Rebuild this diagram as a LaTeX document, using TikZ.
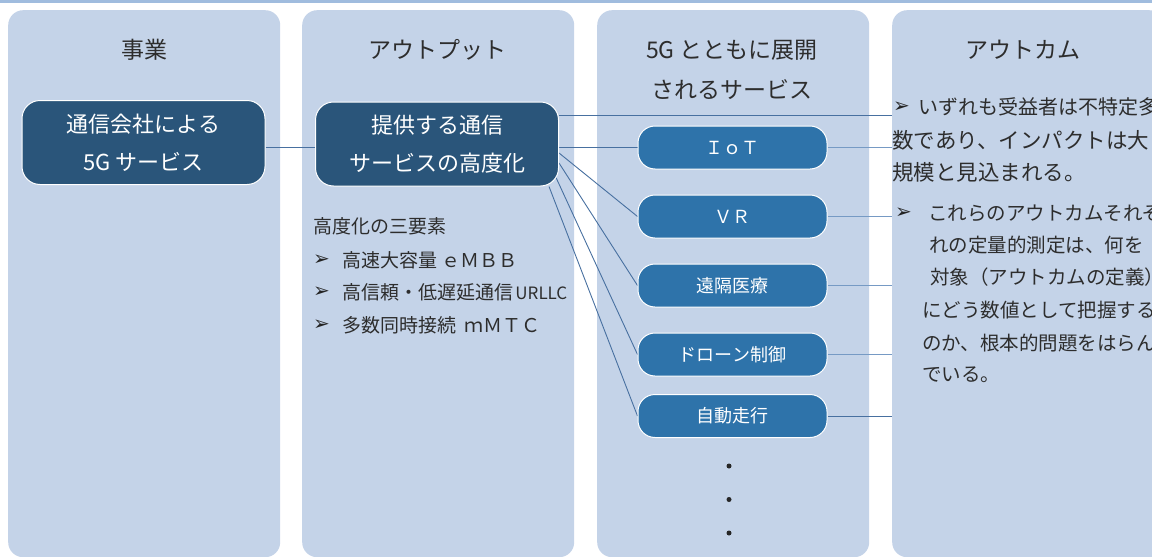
\documentclass[tikz,border=0pt]{standalone}
\usepackage{fontspec}
\setmainfont{Noto Sans CJK JP}
\newfontfamily\symf{DejaVu Sans}
\usetikzlibrary{calc}
\pgfdeclarelayer{panels}
\pgfdeclarelayer{links}
\pgfsetlayers{panels,links,main}
\definecolor{panelc}{RGB}{196,211,232}
\definecolor{stripc}{RGB}{160,188,222}
\definecolor{darkc}{RGB}{42,85,122}
\definecolor{svcc}{RGB}{46,115,170}
\definecolor{lineA}{RGB}{72,112,160}
\definecolor{lineB}{RGB}{118,154,196}
\definecolor{txtc}{RGB}{45,45,45}
\tikzset{
  panelbox/.style={rectangle, fill=panelc, draw=none, rounded corners=15pt, inner sep=0pt,
    minimum width=272pt, minimum height=547pt, anchor=north west},
  ptitle/.style={text=txtc, align=center, inner sep=0pt, font=\fontsize{23}{40}\selectfont},
  darkbox/.style={rectangle, rounded corners=18pt, fill=darkc, draw=white, line width=1pt,
    minimum width=243pt, minimum height=84pt, text=white, align=center, inner sep=0pt,
    font=\fontsize{22}{38}\selectfont},
  svcbox/.style={rectangle, rounded corners=17pt, fill=svcc, draw=white, line width=1pt,
    minimum width=189pt, minimum height=43pt, text=white, inner sep=0pt,
    font=\fontsize{18}{20}\selectfont},
  listtxt/.style={anchor=west, inner sep=0pt, text=txtc, font=\fontsize{19}{22}\selectfont},
  outA/.style={anchor=west, inner sep=0pt, text=txtc, font=\fontsize{21.5}{24}\selectfont},
  outB/.style={anchor=west, inner sep=0pt, text=txtc, font=\fontsize{19.5}{22}\selectfont},
  bul/.style={anchor=west, inner sep=0pt, text=txtc!80!black, font=\symf\fontsize{20}{20}\selectfont},
  connA/.style={draw=lineA, line width=0.9pt},
  connB/.style={draw=lineB, line width=1pt},
  dotn/.style={circle, fill=black!85, inner sep=0pt, minimum size=5pt}
}
\begin{document}
\begin{tikzpicture}[x=1pt,y=-1pt]
\useasboundingbox (0,0) rectangle (1152,557);
\clip (0,0) rectangle (1152,557);
\begin{pgfonlayer}{panels}
\fill[stripc] (0,0) rectangle (1152,3);
\node[panelbox] (p1) at (8,10) {};
\node[panelbox] (p2) at (302,10) {};
\node[panelbox] (p3) at (597,10) {};
\node[panelbox] (p4) at (892,10) {};
\end{pgfonlayer}
% titles
\node[ptitle] (t1) at (144,50) {事業};
\node[ptitle] (t2) at (437,50) {アウトプット};
\node[ptitle] (t3) at (732,70) {5G とともに展開\\されるサービス};
\node[ptitle] (t4) at (1023,50) {アウトカム};
% boxes
\node[darkbox] (b1) at (143.5,142.5) {通信会社による\\5G サービス};
\node[darkbox] (b2) at (437,144) {提供する通信\\サービスの高度化};
\node[svcbox] (iot) at (732.5,147.5) {ＩｏＴ};
\node[svcbox] (vr) at (732.5,216.5) {ＶＲ};
\node[svcbox] (med) at (732.5,285.5) {遠隔医療};
\node[svcbox] (drone) at (732.5,354.5) {ドローン制御};
\node[svcbox] (auto) at (732.5,416) {自動走行};
% connectors
\begin{pgfonlayer}{links}
\coordinate (b1out) at ([yshift=-4.5pt]b1.east);
\coordinate (topstart) at ([yshift=29pt]b2.east);
\draw[connA] (b1out) -- (b1out -| b2.west);
\draw[connA] (topstart) -- (topstart -| p4.west);
\draw[connA] (iot.west -| b2.east) -- (iot.west);
\draw[connA] ([yshift=-9pt]b2.east) -- (vr.west);
\draw[connA] ([yshift=-19pt]b2.east) -- (med.west);
\draw[connA] ([xshift=-3pt,yshift=9pt]b2.south east) -- (drone.west);
\draw[connA] ([xshift=-10pt]b2.south east) -- (auto.west);
\draw[connB] (iot.east) -- (iot.east -| p4.west);
\draw[connB] (vr.east) -- (vr.east -| p4.west);
\draw[connB] (med.east) -- (med.east -| p4.west);
\draw[connB] (drone.east) -- (drone.east -| p4.west);
\draw[connA] (auto.east) -- (auto.east -| p4.west);
\end{pgfonlayer}
% dots
\node[dotn] (d1) at (729,466) {};
\node[dotn] (d2) at (729,499.5) {};
\node[dotn] (d3) at (729,533) {};
% output list
\node[listtxt] (l0) at (313,226) {高度化の三要素};
\node[bul] (lb1) at (313,260) {➢};
\node[listtxt] (l1) at (342,260) {高速大容量 ｅＭＢＢ};
\node[bul] (lb2) at (313,292) {➢};
\node[listtxt] (l2) at (342,292) {高信頼・低遅延通信\kern-2pt\ {\fontsize{17}{20}\selectfont URLLC}};
\node[bul] (lb3) at (313,325) {➢};
\node[listtxt] (l3) at (342,325) {多数同時接続\ \ ｍＭＴＣ};
% outcome text
\node[bul] (ob1) at (893,107) {➢};
\node[outA, font=\fontsize{20}{22}\selectfont] (o1) at (918,107) {いずれも受益者は不特定多};
\node[outA] (o2) at (892,140) {数であり、インパクトは大};
\node[outA] (o3) at (892,172) {規模と見込まれる。};
\node[bul] (ob2) at (895,213) {➢};
\node[outB] (o4) at (928,213) {これらのアウトカムそれぞ};
\node[outB] (o5) at (929,245) {れの定量的測定は、何を};
\node[outB] (o6) at (930,277) {対象（アウトカムの定義）};
\node[outB] (o7) at (922,310) {にどう数値として把握する};
\node[outB] (o8) at (922,343) {のか、根本的問題をはらん};
\node[outB] (o9) at (922,375) {でいる。};
\end{tikzpicture}
\end{document}
